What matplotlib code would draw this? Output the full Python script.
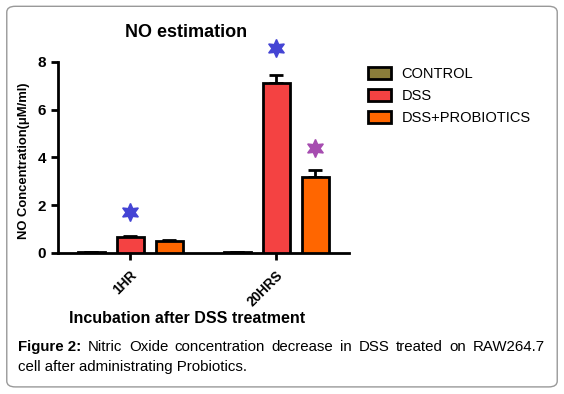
import numpy as np
import matplotlib.pyplot as plt
from matplotlib.patches import FancyBboxPatch

# data
groups = ['1HR', '20HRS']
series = ['CONTROL', 'DSS', 'DSS+PROBIOTICS']
control = [0.04, 0.04]
dss = [0.65, 7.12]
dss_prob = [0.50, 3.20]
control_err = [0.02, 0.02]
dss_err = [0.08, 0.32]
dss_prob_err = [0.05, 0.28]
colors = ['#8a7d3a', '#f44242', '#ff6600']

# significance stars: (group index, series index, y value, colour)
star_group = [0, 1, 1]
star_series = [1, 1, 2]
star_y = [1.72, 8.6, 4.38]
star_colors = ['#4444d4', '#4444d4', '#a64cb0']

caption_head = 'Figure 2:'
caption_line1 = 'Nitric Oxide concentration decrease in DSS treated on RAW264.7'
caption_line2 = 'cell after administrating Probiotics.'

fig = plt.figure(figsize=(5.64, 3.94), dpi=100)

# rounded border round the whole figure
border = FancyBboxPatch((0.012, 0.018), 0.976, 0.966, boxstyle='round,pad=0,rounding_size=0.015',
                        transform=fig.transFigure, fill=False, edgecolor='#999999', linewidth=1.0)
fig.patches.append(border)

ax = fig.add_axes([0.103, 0.358, 0.516, 0.485])

x = np.arange(len(groups))
width = 0.185
offset = 0.267
vals = [control, dss, dss_prob]
errs = [control_err, dss_err, dss_prob_err]
for i, (v, e) in enumerate(zip(vals, errs)):
    xs = x + (i - 1) * offset
    ax.bar(xs, v, width, color=colors[i], edgecolor='black', linewidth=2.0, label=series[i], zorder=3)
    ax.errorbar(xs, v, yerr=[np.zeros(len(e)), e], fmt='none', ecolor='black',
                elinewidth=2.0, capsize=5, capthick=2.0, zorder=2)

for g, s, y, c in zip(star_group, star_series, star_y, star_colors):
    ax.plot(x[g] + (s - 1) * offset, y, marker=(6, 1, 0), markersize=13, color=c,
            linestyle='none', clip_on=False, zorder=4)

ax.set_xlim(-0.493, 1.5)
ax.set_ylim(0, 8)
ax.set_yticks([0, 2, 4, 6, 8])
ax.set_xticks(x)
ax.set_xticklabels(groups, rotation=45, ha='right', rotation_mode='anchor',
                   fontsize=9.8, fontweight='bold', family='Liberation Sans')
for lab in ax.get_yticklabels():
    lab.set_family('Liberation Sans')
    lab.set_fontweight('bold')
    lab.set_fontsize(11)
ax.spines['top'].set_visible(False)
ax.spines['right'].set_visible(False)
ax.spines['left'].set_linewidth(2.0)
ax.spines['bottom'].set_linewidth(2.0)
ax.tick_params(width=2.0, length=5)
ax.tick_params(axis='x', pad=6)

ax.set_ylabel('NO Concentration(μM/ml)', fontsize=9.4, fontweight='bold', family='Liberation Sans')
ax.yaxis.set_label_coords(-0.096, 0.485)

# title and x label sit left of the axes centre in the reference
fig.text(0.33, 0.918, 'NO estimation', fontsize=13, fontweight='bold', family='Liberation Sans',
         ha='center', va='center')
fig.text(0.332, 0.192, 'Incubation after DSS treatment', fontsize=11.5, fontweight='bold',
         family='Liberation Sans', ha='center', va='center')

leg = ax.legend(loc='upper left', bbox_to_anchor=(1.02, 1.04), frameon=False,
                prop={'family': 'Liberation Sans', 'size': 10.5},
                handlelength=1.6, handleheight=0.9, handletextpad=0.7, labelspacing=0.52)
for h in leg.legend_handles:
    h.set_linewidth(2.0)

# caption, first line justified between the margins
fig.canvas.draw()
renderer = fig.canvas.get_renderer()
W = 564.0
left_px, right_px = 18.0, 545.0
words = [(caption_head, 'bold')] + [(w, 'normal') for w in caption_line1.split()]
items = []
for w, fw in words:
    t = fig.text(0, 0.108, w, fontsize=10.8, fontweight=fw, family='Liberation Sans', va='baseline')
    items.append(t)
widths = [t.get_window_extent(renderer).width for t in items]
gap = (right_px - left_px - sum(widths)) / (len(items) - 1)
pos = left_px
for t, wd in zip(items, widths):
    t.set_x(pos / W)
    pos += wd + gap
fig.text(left_px / W, 0.058, caption_line2, fontsize=10.8, family='Liberation Sans', va='baseline')

fig.savefig('out.png', dpi=100)
